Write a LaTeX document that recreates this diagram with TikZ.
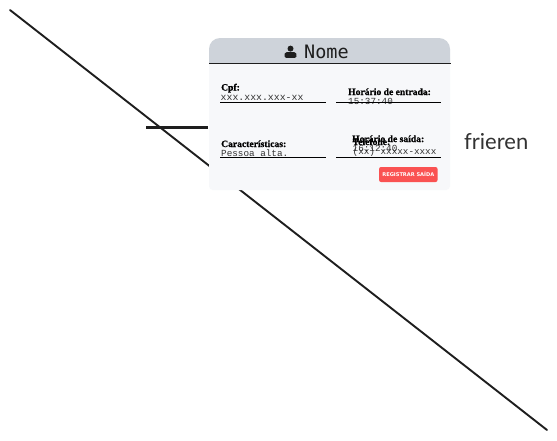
\documentclass[tikz,border=0pt]{standalone}
\usepackage{fontspec}
\setmainfont{Liberation Serif}
\newfontfamily\labf[BoldFeatures={FakeBold=0.7}]{Liberation Serif}
\newfontfamily\monof{Liberation Mono}
\newfontfamily\nomef{DejaVu Sans Mono}
\newfontfamily\handf{Lato}
\newfontfamily\btnf{DejaVu Sans}
\definecolor{headc}{HTML}{CED3DA}
\definecolor{bodyc}{HTML}{F7F8FA}
\definecolor{inkc}{HTML}{1E1E1E}
\definecolor{btnc}{HTML}{FA5252}
\definecolor{valc}{HTML}{333333}
\tikzset{
  lab/.style={font=\labf\bfseries\fontsize{9.6}{9}\selectfont, inner sep=0pt, anchor=base west, text=black},
  val/.style={font=\monof\fontsize{9.3}{9}\selectfont, inner sep=0pt, anchor=base west, text=valc},
  rule/.style={draw=black, line width=1.3pt},
  sketch/.style={draw=inkc, line width=1.9pt, line cap=round}
}
\begin{document}
\begin{tikzpicture}[x=1pt,y=-1pt]
\useasboundingbox (0,0) rectangle (557,440);
\fill[white] (0,0) rectangle (557,440);
\coordinate (d1) at (10,10);
\coordinate (d2) at (547,430);
\draw[sketch] (d1) -- (d2);
\coordinate (t1) at (146,127.5);
\coordinate (t2) at (208,127.5);
\draw[draw=inkc, line width=3pt] (t1) -- (t2);
% card
\fill[bodyc, rounded corners=4pt] (209,55) rectangle (450,190);
\fill[headc] (209,63) -- (209,49) .. controls (209,42.9) and (213.9,38) .. (220,38) -- (439,38) .. controls (445.1,38) and (450,42.9) .. (450,49) -- (450,63) -- cycle;
\draw[draw=inkc, line width=1.7pt] (209,63.5) -- (450.5,63.5);
% icon
\fill[inkc] (290.5,48.6) circle (3);
\fill[inkc, rounded corners=1.4pt] (284.5,57.8) -- (284.5,54.8) .. controls (285,52.2) and (288,52) .. (290.5,52) .. controls (293,52) and (296,52.2) .. (296.5,54.8) -- (296.5,57.8) -- cycle;
\node[font=\nomef\fontsize{18.5}{18}\selectfont, inner sep=0pt, anchor=base west, text=inkc] (nome) at (304,58) {Nome};
% fields
\node[lab] (cpf) at (221,90.5) {Cpf:};
\node[val, font=\monof\fontsize{9.85}{9}\selectfont] (cpfv) at (220.5,100) {xxx.xxx.xxx-xx};
\draw[rule] (220,102.3) -- (326,102.3);
\node[lab] (ent) at (348,95) {Horário de entrada:};
\node[val] (entv) at (348,104) {15:37:40};
\draw[rule] (336,102.5) -- (441,102.5);
\node[lab] (car) at (221,147) {Características:};
\node[val] (carv) at (221,156) {Pessoa alta.};
\draw[rule] (220,157.5) -- (326,157.5);
\node[lab] (sai) at (352,142) {Horário de saída:};
\node[lab] (tel) at (352.5,145) {Telefone:};
\node[val] (salv) at (352.5,151) {16:12:40};
\node[val] (telv) at (352.5,154.5) {(xx) xxxxx-xxxx};
\draw[rule] (336,157.5) -- (441,157.5);
% button
\node[fill=btnc, rounded corners=2pt, minimum width=58.5pt, minimum height=15pt, inner sep=0pt, text=white, font=\btnf\bfseries\fontsize{5.1}{5}\selectfont] (btn) at (408.3,174.5) {REGISTRAR SAÍDA};
\node[font=\handf\fontsize{22}{22}\selectfont, inner sep=0pt, anchor=base west, text=valc] (fr) at (464,149) {frieren};
\end{tikzpicture}
\end{document}
